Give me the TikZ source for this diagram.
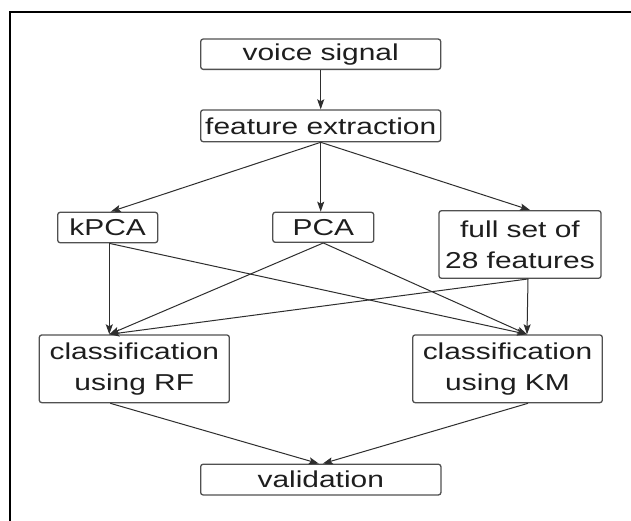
\documentclass[tikz,border=0pt]{standalone}
\usepackage{fontspec}
\newfontfamily\boxfont{Liberation Sans}[FakeStretch=1.3]
\usetikzlibrary{arrows.meta}
\definecolor{boxline}{HTML}{505050}
\definecolor{edgeline}{HTML}{2E2E2E}
\definecolor{textcol}{HTML}{1E1E1E}
\tikzset{
  stagebox/.style={draw=boxline, line width=1.3pt, rounded corners=2.5pt,
    inner sep=0pt, align=center, text=textcol,
    font=\boxfont\fontsize{23}{31}\selectfont},
  edge/.style={draw=edgeline, line width=1pt,
    -{Stealth[length=10pt, width=7pt, inset=2pt]}},
}
\begin{document}
\begin{tikzpicture}[x=1pt, y=-1pt]
  \clip (0,0) rectangle (631,520);
  \fill[white] (0,0) rectangle (631,520);
  % outer frame, running off the right and bottom edges
  \draw[black, line width=2.2pt] (10,12) rectangle (660,560);

  % stages of the pipeline
  \node[stagebox, minimum width=240pt, minimum height=30.3pt] (voice) at (320.7,54.2) {voice signal};
  \node[stagebox, minimum width=240pt, minimum height=31.7pt] (feat) at (320.7,125.8) {feature extraction};
  \node[stagebox, minimum width=100pt, minimum height=30.4pt] (kpca) at (107.7,227.5) {kPCA};
  \node[stagebox, minimum width=101pt, minimum height=30pt] (pca) at (323.3,227.3) {PCA};
  \node[stagebox, minimum width=162pt, minimum height=67.6pt] (full) at (520,244.5) {full set of\\28 features};
  \node[stagebox, minimum width=190pt, minimum height=67.7pt] (rf) at (134.3,368.8) {classification\\using RF};
  \node[stagebox, minimum width=189.6pt, minimum height=67.7pt] (km) at (507.5,368.8) {classification\\using KM};
  \node[stagebox, minimum width=240.3pt, minimum height=30.7pt] (valid) at (320.8,479.6) {validation};

  % connectors
  \draw[edge] (voice.south) -- (feat.north);
  \draw[edge] (feat.south) -- ([xshift=3pt]kpca.north);
  \draw[edge] (feat.south) -- ([xshift=-2.6pt]pca.north);
  \draw[edge] (feat.south) -- ([xshift=10pt]full.north);

  \draw[edge] ([xshift=1.6pt]kpca.south) -- ([xshift=-25pt]rf.north);
  \draw[edge] ([xshift=1.6pt]kpca.south) -- ([xshift=19.5pt]km.north);
  \draw[edge] (pca.south) -- ([xshift=-25pt]rf.north);
  \draw[edge] (pca.south) -- ([xshift=19.5pt]km.north);
  \draw[edge] ([xshift=8pt]full.south) -- ([xshift=-25pt]rf.north);
  \draw[edge] ([xshift=8pt]full.south) -- ([xshift=19.5pt]km.north);

  \draw[edge] ([xshift=-24pt]rf.south) -- ([xshift=-2pt]valid.north);
  \draw[edge] ([xshift=20.5pt]km.south) -- ([xshift=2pt]valid.north);
\end{tikzpicture}
\end{document}
